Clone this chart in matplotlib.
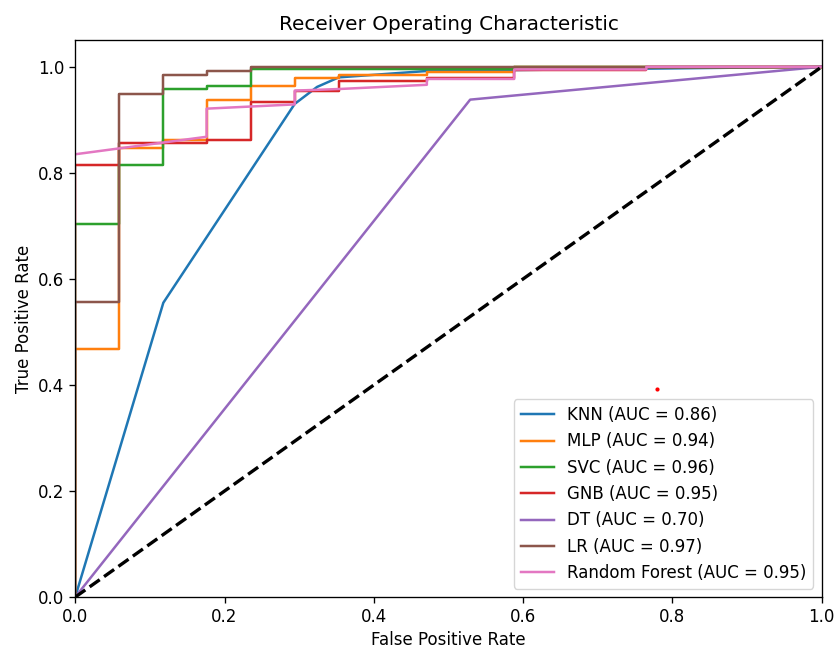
import matplotlib
matplotlib.use("Agg")
import matplotlib.pyplot as plt

# ---- data ----
knn_fpr = [0.0, 0.118, 0.294, 0.324, 0.353, 0.471, 1.0]
knn_tpr = [0.0, 0.555, 0.930, 0.962, 0.980, 0.992, 1.0]

mlp_fpr = [0.0, 0.0, 0.059, 0.059, 0.118, 0.118, 0.176, 0.176, 0.235, 0.235,
           0.294, 0.294, 0.353, 0.353, 0.471, 0.471, 0.588, 0.588, 1.0]
mlp_tpr = [0.0, 0.467, 0.467, 0.846, 0.846, 0.861, 0.861, 0.937, 0.937, 0.964,
           0.964, 0.979, 0.979, 0.985, 0.985, 0.990, 0.990, 1.0, 1.0]

svc_fpr = [0.0, 0.0, 0.059, 0.059, 0.118, 0.118, 0.176, 0.176, 0.235, 0.235,
           0.588, 0.588, 1.0]
svc_tpr = [0.0, 0.703, 0.703, 0.815, 0.815, 0.958, 0.958, 0.963, 0.963, 0.996,
           0.996, 1.0, 1.0]

gnb_fpr = [0.0, 0.0, 0.059, 0.059, 0.176, 0.176, 0.235, 0.235, 0.294, 0.294,
           0.353, 0.353, 0.471, 0.471, 0.588, 0.588, 0.765, 0.765, 1.0]
gnb_tpr = [0.0, 0.815, 0.815, 0.857, 0.857, 0.861, 0.861, 0.933, 0.933, 0.955,
           0.955, 0.974, 0.974, 0.979, 0.979, 0.993, 0.993, 1.0, 1.0]

dt_fpr = [0.0, 0.529, 1.0]
dt_tpr = [0.0, 0.938, 1.0]

lr_fpr = [0.0, 0.0, 0.059, 0.059, 0.118, 0.118, 0.176, 0.176, 0.235, 0.235, 1.0]
lr_tpr = [0.0, 0.557, 0.557, 0.949, 0.949, 0.985, 0.985, 0.992, 0.992, 1.0, 1.0]

rf_fpr = [0.0, 0.176, 0.176, 0.294, 0.294, 0.353, 0.471, 0.471, 0.588, 0.588,
          0.765, 0.765, 1.0]
rf_tpr = [0.835, 0.868, 0.921, 0.929, 0.955, 0.958, 0.966, 0.977, 0.977, 0.995,
          0.995, 1.0, 1.0]

names = ["KNN", "MLP", "SVC", "GNB", "DT", "LR", "Random Forest"]
aucs = [0.86, 0.94, 0.96, 0.95, 0.70, 0.97, 0.95]
curves = [(knn_fpr, knn_tpr), (mlp_fpr, mlp_tpr), (svc_fpr, svc_tpr),
          (gnb_fpr, gnb_tpr), (dt_fpr, dt_tpr), (lr_fpr, lr_tpr),
          (rf_fpr, rf_tpr)]

stray_x = [0.779]
stray_y = [0.392]

# ---- plot ----
S = 1.2
fig = plt.figure(figsize=(8.36, 6.49), dpi=100)
ax = fig.add_subplot(111)
fig.subplots_adjust(left=0.09, right=0.983, bottom=0.08, top=0.938)

for (f, t), n, a in zip(curves, names, aucs):
    ax.plot(f, t, lw=1.5 * S, label=f"{n} (AUC = {a:.2f})")

ax.plot([0, 1], [0, 1], "k--", lw=2 * S)
ax.plot(stray_x, stray_y, "o", color="red", ms=3, mew=0)

ax.set_xlim([0.0, 1.0])
ax.set_ylim([0.0, 1.05])
ax.set_xlabel("False Positive Rate", fontsize=10 * S)
ax.set_ylabel("True Positive Rate", fontsize=10 * S)
ax.set_title("Receiver Operating Characteristic", fontsize=12 * S, pad=6 * S)
ax.tick_params(labelsize=10 * S, length=3.5 * S, width=0.8 * S)
for sp in ax.spines.values():
    sp.set_linewidth(0.8 * S)
ax.legend(loc="lower right", fontsize=10 * S)

fig.savefig("out.png", dpi=100)
